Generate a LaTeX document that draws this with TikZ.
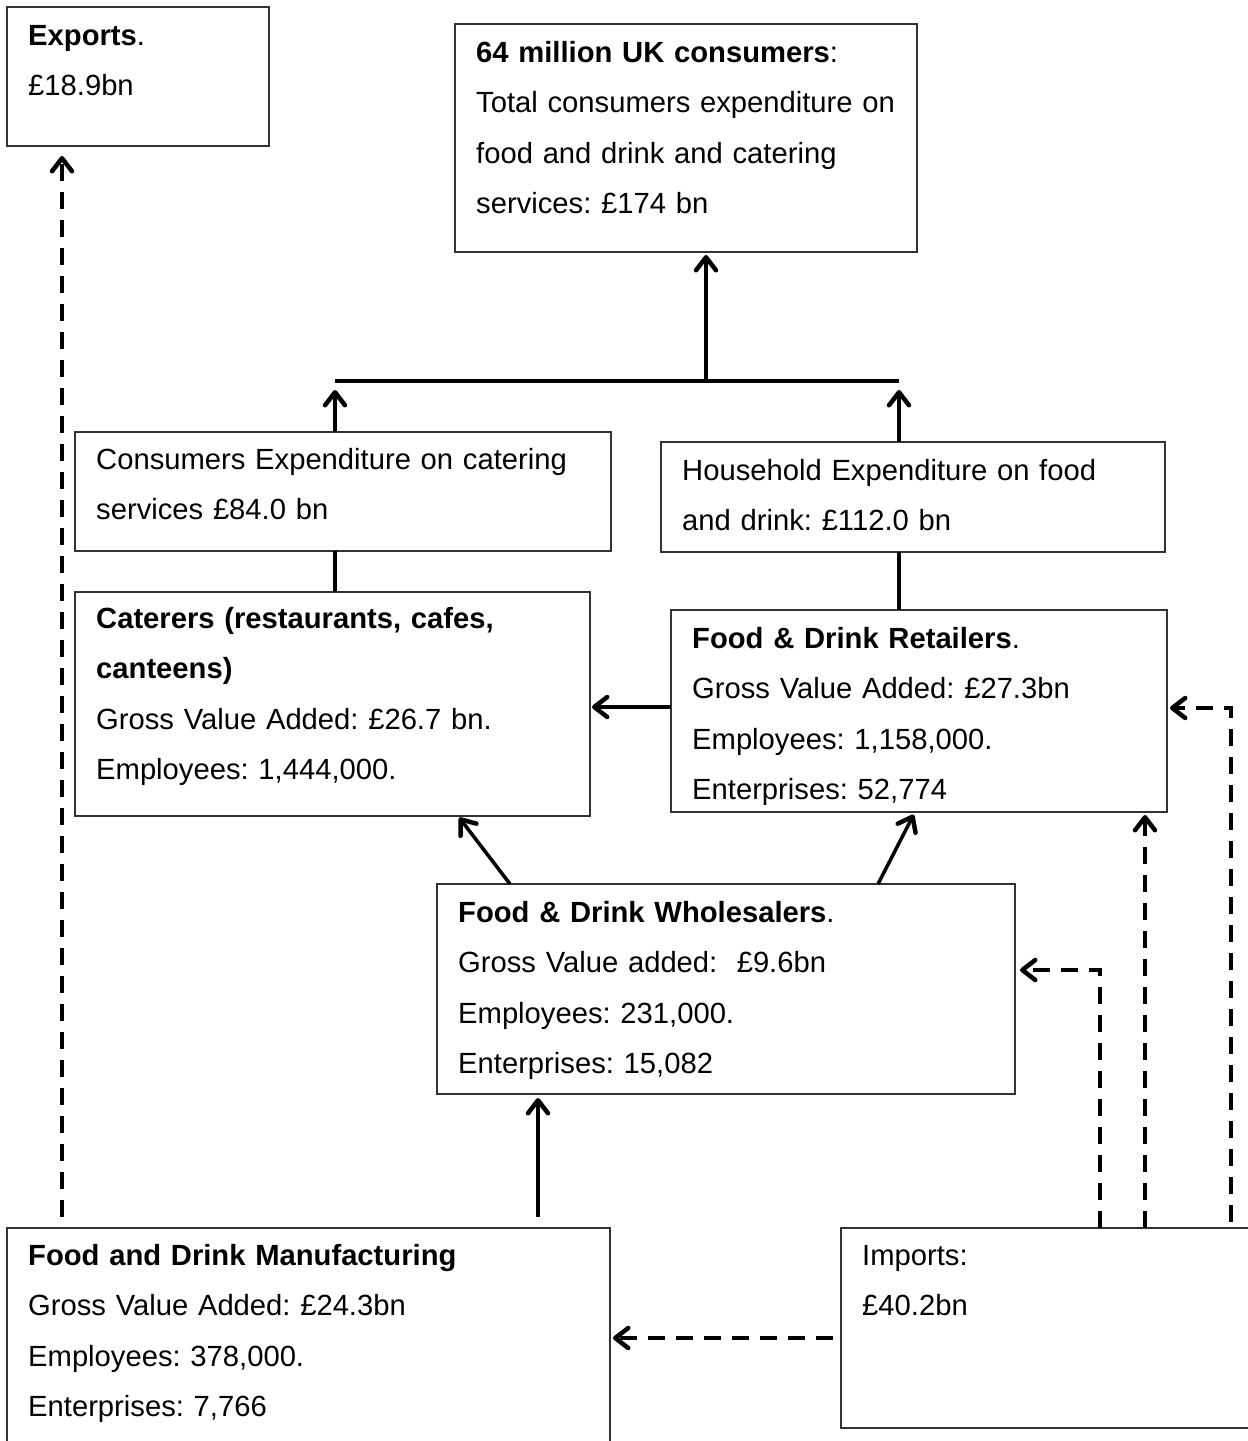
\documentclass[tikz,border=0pt]{standalone}
\usepackage{fontspec}
\setmainfont{Liberation Sans}
\usetikzlibrary{arrows.meta}
\frenchspacing
\begin{document}
\begin{tikzpicture}[x=1pt,y=-1pt,
  box/.style={draw=black!80, line width=1.5pt, inner sep=0pt, outer sep=0pt, anchor=north west},
  txt/.style={anchor=base west, inner sep=0pt, text width=560pt, align=left,
    font=\fontsize{29.2}{50.6}\selectfont},
  link/.style={line width=3.5pt},
  tip/.style={-{Straight Barb[length=13pt,width=20pt,line width=4.5pt,round]}},
  dashlink/.style={link, dash pattern=on 17pt off 11pt}]
\useasboundingbox (0,0) rectangle (1248,1441);
\clip (0,0) rectangle (1248,1441);

% boxes
\node[box, minimum width=262pt, minimum height=139pt] (exp) at (7,7) {};
\node[box, minimum width=462pt, minimum height=228pt] (cons) at (455,24) {};
\node[box, minimum width=536pt, minimum height=119pt] (cat) at (75,432) {};
\node[box, minimum width=504pt, minimum height=110pt] (hh) at (661,442) {};
\node[box, minimum width=515pt, minimum height=224pt] (crt) at (75,592) {};
\node[box, minimum width=496pt, minimum height=202pt] (ret) at (671,610) {};
\node[box, minimum width=578pt, minimum height=210pt] (whl) at (437,884) {};
\node[box, minimum width=603pt, minimum height=260pt] (mfg) at (7,1228) {};
\node[box, minimum width=450pt, minimum height=200pt] (imp) at (841,1228) {};

% texts
\node[txt] (expT) at (28,45) {\textbf{Exports}.\\£18.9bn};
\node[txt] (consT) at (476,62) {\textbf{64 million UK consumers}:\\Total consumers expenditure on\\food and drink and catering\\services: £174 bn};
\node[txt] (catT) at (96,469) {Consumers Expenditure on catering\\services £84.0 bn};
\node[txt] (hhT) at (682,480) {Household Expenditure on food\\and drink: £112.0 bn};
\node[txt] (crtT) at (96,628) {\textbf{Caterers (restaurants, cafes,}\\\textbf{canteens)}\\Gross Value Added: £26.7 bn.\\Employees: 1,444,000.};
\node[txt] (retT) at (692,648) {\textbf{Food \& Drink Retailers}.\\Gross Value Added: £27.3bn\\Employees: 1,158,000.\\Enterprises: 52,774};
\node[txt] (whlT) at (458,922) {\textbf{Food \& Drink Wholesalers}.\\Gross Value added:\ \ £9.6bn\\Employees: 231,000.\\Enterprises: 15,082};
\node[txt] (mfgT) at (28,1265) {\textbf{Food and Drink Manufacturing}\\Gross Value Added: £24.3bn\\Employees: 378,000.\\Enterprises: 7,766};
\node[txt] (impT) at (862,1265) {Imports:\\£40.2bn};

% junction bar under the consumers box
\coordinate (barL) at (335,381);
\coordinate (barR) at (899,381);
\coordinate (barM) at (706,381);
\draw[link] (barL) -- (barR);
\draw[link, tip, shorten >=3pt] (barM) -- (barM |- cons.south);
\draw[link, tip, shorten >=9pt] (cat.north -| barL) -- (barL);
\draw[link, tip, shorten >=9pt] (hh.north -| barR) -- (barR);
\draw[link] (cat.south -| barL) -- (crt.north -| barL);
\draw[link] (hh.south -| barR) -- (ret.north -| barR);

% solid flows
\draw[link, tip, shorten >=2pt] ([yshift=4pt]ret.west) -- ([yshift=4pt]ret.west -| crt.east);
\draw[link, tip, shorten >=2pt] ([xshift=73pt]whl.north west) -- ([xshift=-132pt]crt.south east);
\draw[link, tip, shorten >=3pt] ([xshift=441pt]whl.north west) -- ([xshift=-252pt]ret.south east);
\draw[link, tip, shorten >=4pt] ([xshift=531pt,yshift=11pt]mfg.north west) -- ([xshift=101pt]whl.south west);

% dashed flows
\draw[dashlink, tip, shorten >=10pt] ([xshift=55pt,yshift=11pt]mfg.north west) -- ([xshift=55pt]exp.south west);
\draw[dashlink, tip, shorten <=8pt, shorten >=3pt] ([yshift=-10pt]imp.west) -- ([yshift=-10pt]imp.west -| mfg.east);
\draw[dashlink, tip, shorten >=5pt] ([xshift=259pt]imp.north west) |- ([yshift=19pt]whl.east);
\draw[dashlink, tip, shorten >=3pt] ([xshift=304pt]imp.north west) -- ([xshift=304pt]imp.north west |- ret.south);
\draw[dashlink, tip, shorten <=6pt, shorten >=3pt] ([xshift=390pt]imp.north west) |- ([yshift=3pt]ret.east);
\end{tikzpicture}
\end{document}
